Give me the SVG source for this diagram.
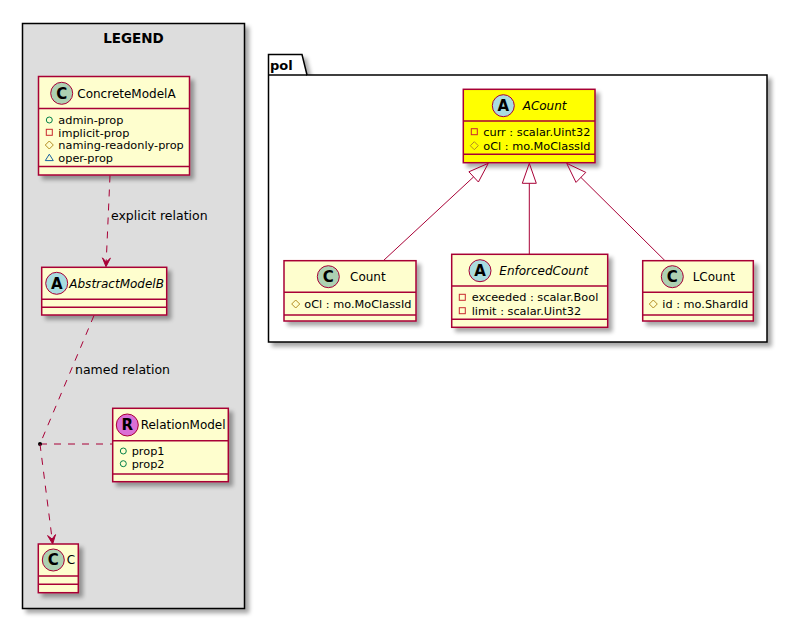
<svg xmlns="http://www.w3.org/2000/svg" width="802" height="634" viewBox="0 0 802 634">
<style>
text{font-family:"DejaVu Sans","Noto Sans",sans-serif;fill:#000}
.cls{fill:#FEFECE;stroke:#A80036;stroke-width:1.5}
.sep{stroke:#A80036;stroke-width:1.5}
.name{font-size:12px}
.it{font-style:italic}
.attr{font-size:11.3px}
.ltr{font-size:15px;font-weight:bold;text-anchor:middle}
.cC{fill:#ADD1B2;stroke:#A80036;stroke-width:1}
.cA{fill:#A9DCDF;stroke:#A80036;stroke-width:1}
.cR{fill:#DA70D6;stroke:#A80036;stroke-width:1}
.pub{fill:none;stroke:#038048;stroke-width:1}
.pri{fill:none;stroke:#C82930;stroke-width:1}
.pro{fill:none;stroke:#B38D22;stroke-width:1}
.pkg{fill:none;stroke:#1963A0;stroke-width:1}
.dash{fill:none;stroke:#A80036;stroke-width:1;stroke-dasharray:7,7}
.solid{fill:none;stroke:#A80036;stroke-width:1}
.head{fill:#A80036;stroke:#A80036;stroke-width:1}
.tri{fill:none;stroke:#A80036;stroke-width:1}
.lbl{font-size:12.5px}
</style>
<defs>
<filter id="sh" x="-10%" y="-10%" width="130%" height="130%">
<feGaussianBlur in="SourceAlpha" stdDeviation="2"/>
<feOffset dx="4" dy="4"/>
<feComponentTransfer><feFuncA type="linear" slope="0.35"/></feComponentTransfer>
<feMerge><feMergeNode/><feMergeNode in="SourceGraphic"/></feMerge>
</filter>
</defs>
<rect width="802" height="634" fill="#FFFFFF"/>

<g id="legend">
<rect x="22.5" y="23.5" width="222" height="585" fill="#DDDDDD" stroke="#000" stroke-width="1.5" filter="url(#sh)"/>
<text x="133.5" y="43" font-size="13.5" font-weight="bold" text-anchor="middle">LEGEND</text>
</g>

<g id="pol">
<path d="M268.5,75 L268.5,54.5 L302,54.5 L307,75 L767,75 L767,342 L268.5,342 Z" fill="#FFFFFF" stroke="#000" stroke-width="1.5" filter="url(#sh)"/>
<line x1="268.5" y1="75" x2="307" y2="75" stroke="#000" stroke-width="1.5"/>
<text x="270" y="70" font-size="13" font-weight="bold">pol</text>
</g>

<g id="ConcreteModelA">
<rect class="cls" x="38.5" y="76.5" width="151" height="98.5" filter="url(#sh)"/>
<line class="sep" x1="38.5" y1="108.5" x2="189.5" y2="108.5"/>
<line class="sep" x1="38.5" y1="166.5" x2="189.5" y2="166.5"/>
<circle class="cC" cx="61.7" cy="93.3" r="11"/>
<text class="ltr" x="61.7" y="98.6">C</text>
<text class="name" x="77.3" y="97.5">ConcreteModelA</text>
<circle class="pub" cx="49.3" cy="120" r="3"/>
<text class="attr" x="58.3" y="124">admin-prop</text>
<rect class="pri" x="46.3" y="129.3" width="6" height="6"/>
<text class="attr" x="58.3" y="136.5">implicit-prop</text>
<polygon class="pro" points="49.3,141 53.3,145 49.3,149 45.3,145"/>
<text class="attr" x="58.3" y="149">naming-readonly-prop</text>
<polygon class="pkg" points="49.3,154.2 53.3,160.6 45.3,160.6"/>
<text class="attr" x="58.3" y="161.7">oper-prop</text>
</g>

<g id="AbstractModelB">
<rect class="cls" x="41.7" y="267.3" width="125" height="47.7" filter="url(#sh)"/>
<line class="sep" x1="41.7" y1="299.3" x2="166.7" y2="299.3"/>
<line class="sep" x1="41.7" y1="307.3" x2="166.7" y2="307.3"/>
<circle class="cA" cx="56.7" cy="283.3" r="11"/>
<text class="ltr" x="56.7" y="288.6">A</text>
<text class="name it" x="69.3" y="287.5">AbstractModelB</text>
</g>

<g id="RelationModel">
<rect class="cls" x="112.7" y="408.3" width="115.6" height="73.4" filter="url(#sh)"/>
<line class="sep" x1="112.7" y1="440.7" x2="228.3" y2="440.7"/>
<line class="sep" x1="112.7" y1="474" x2="228.3" y2="474"/>
<circle class="cR" cx="127.3" cy="425" r="11"/>
<text class="ltr" x="127.3" y="430.3">R</text>
<text class="name" x="140.7" y="429.2">RelationModel</text>
<circle class="pub" cx="123.3" cy="451" r="3"/>
<text class="attr" x="131.7" y="455">prop1</text>
<circle class="pub" cx="123.3" cy="463.7" r="3"/>
<text class="attr" x="131.7" y="467.7">prop2</text>
</g>

<g id="C">
<rect class="cls" x="38.3" y="544" width="40" height="48.7" filter="url(#sh)"/>
<line class="sep" x1="38.3" y1="576" x2="78.3" y2="576"/>
<line class="sep" x1="38.3" y1="584.3" x2="78.3" y2="584.3"/>
<circle class="cC" cx="53.3" cy="560" r="11"/>
<text class="ltr" x="53.3" y="565.3">C</text>
<text class="name" x="66.7" y="564.2">C</text>
</g>

<g id="ACount">
<rect x="463.3" y="89.3" width="131.7" height="73.4" fill="#FFFF00" stroke="#A80036" stroke-width="1.5" filter="url(#sh)"/>
<line class="sep" x1="463.3" y1="121" x2="595" y2="121"/>
<line class="sep" x1="463.3" y1="154.3" x2="595" y2="154.3"/>
<circle class="cA" cx="503.3" cy="105.7" r="11"/>
<text class="ltr" x="503.3" y="111">A</text>
<text class="name it" x="522.7" y="110">ACount</text>
<rect class="pri" x="471.3" y="128.7" width="6" height="6"/>
<text class="attr" x="483.3" y="135.7">curr : scalar.Uint32</text>
<polygon class="pro" points="474.3,141.7 478.3,145.7 474.3,149.7 470.3,145.7"/>
<text class="attr" x="483.3" y="149.7">oCl : mo.MoClassId</text>
</g>

<g id="Count">
<rect class="cls" x="284" y="260.7" width="132" height="60.3" filter="url(#sh)"/>
<line class="sep" x1="284" y1="292.3" x2="416" y2="292.3"/>
<line class="sep" x1="284" y1="315" x2="416" y2="315"/>
<circle class="cC" cx="328.3" cy="276.7" r="11"/>
<text class="ltr" x="328.3" y="282">C</text>
<text class="name" x="350" y="281">Count</text>
<polygon class="pro" points="295.7,300 299.7,304 295.7,308 291.7,304"/>
<text class="attr" x="304.3" y="308">oCl : mo.MoClassId</text>
</g>

<g id="EnforcedCount">
<rect class="cls" x="451.7" y="254.3" width="156" height="73" filter="url(#sh)"/>
<line class="sep" x1="451.7" y1="286" x2="607.7" y2="286"/>
<line class="sep" x1="451.7" y1="319.3" x2="607.7" y2="319.3"/>
<circle class="cA" cx="480" cy="270.7" r="11"/>
<text class="ltr" x="480" y="276">A</text>
<text class="name it" x="499.3" y="275">EnforcedCount</text>
<rect class="pri" x="459.3" y="294.3" width="6" height="6"/>
<text class="attr" x="471.7" y="301.3">exceeded : scalar.Bool</text>
<rect class="pri" x="459.3" y="307.7" width="6" height="6"/>
<text class="attr" x="471.7" y="314.7">limit : scalar.Uint32</text>
</g>

<g id="LCount">
<rect class="cls" x="642.7" y="260.7" width="110.6" height="60.3" filter="url(#sh)"/>
<line class="sep" x1="642.7" y1="292.3" x2="753.3" y2="292.3"/>
<line class="sep" x1="642.7" y1="315" x2="753.3" y2="315"/>
<circle class="cC" cx="672.3" cy="276.7" r="11"/>
<text class="ltr" x="672.3" y="282">C</text>
<text class="name" x="692.7" y="281">LCount</text>
<polygon class="pro" points="653.3,300 657.3,304 653.3,308 649.3,304"/>
<text class="attr" x="662.3" y="308">id : mo.ShardId</text>
</g>

<g id="connectors">
<path class="dash" d="M110,175.5 L106.2,262"/>
<polygon class="head" points="106,266.7 110.4,258.2 106.2,262 102.4,257.8"/>
<text class="lbl" x="111" y="219.5">explicit relation</text>

<path class="dash" d="M94,315.5 L40,444"/>
<text class="lbl" x="75" y="373.5">named relation</text>
<path class="dash" d="M40,444 L112.7,444"/>
<circle cx="40" cy="444" r="2" fill="#000"/>
<path class="dash" d="M40,444 L52.1,539"/>
<polygon class="head" points="52.7,544 55.5,534.6 52.1,539 47.6,535.6"/>

<path class="solid" d="M383.3,260.7 L473.6,176.9"/>
<polygon class="tri" points="488.3,163.3 478.4,182 468.9,171.8"/>
<path class="solid" d="M529.3,254.3 L529.3,183.3"/>
<polygon class="tri" points="529.3,163.3 536.3,183.3 522.3,183.3"/>
<path class="solid" d="M665,260.7 L580.9,177.4"/>
<polygon class="tri" points="566.7,163.3 576,182.4 585.8,172.4"/>
</g>
</svg>
